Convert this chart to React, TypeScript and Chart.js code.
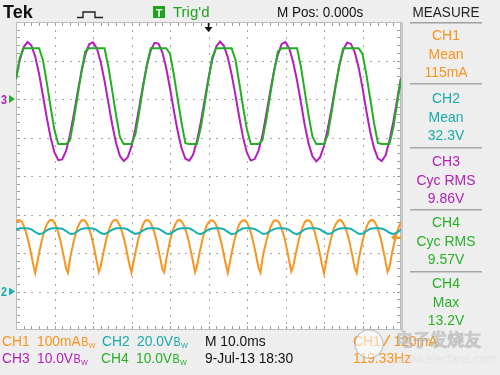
import React, { useEffect, useRef } from "react";
import { Chart, registerables } from "chart.js";

Chart.register(...registerables);

// ---- horizontal axis: 10 ms/div, 10 divisions ----
const TIME_MIN_MS = 0;
const TIME_MAX_MS = 100;
const SAMPLE_STEP_MS = 1;
const CH1_SAMPLE_STEP_MS = 0.5;
// ---- vertical axis: 8 divisions ----
const DIV_MIN = -4;
const DIV_MAX = 4;

// channel settings
const channelLabels = ["CH1", "CH2", "CH3", "CH4"];
const channelUnitsPerDiv = [100, 20, 10, 10]; // mA/div, V/div, V/div, V/div
const channelGroundDiv = [-2.8, -3, 2, 2];
const channelScaleLabels = ["100mA", "20.0V", "10.0V", "10.0V"];
const triggerLevelMilliAmps = 120;

// measurements panel
const measureSources = [0, 1, 2, 3, 3];
const measureNames = ["Mean", "Mean", "Cyc RMS", "Cyc RMS", "Max"];
const measureValues = ["115mA", "32.3V", "9.86V", "9.57V", "13.2V"];

// ---- sampled traces ----
const ch1MilliAmps = [
  160, 165, 165, 161, 151, 137, 119, 98, 74, 49,
  28, 54, 80, 103, 124, 141, 154, 162, 166, 165,
  158, 147, 132, 113, 90, 66, 40, 29, 63, 88,
  110, 130, 146, 157, 164, 166, 163, 155, 142, 126,
  106, 82, 57, 31, 45, 71, 95, 117, 135, 150,
  161, 165, 166, 160, 151, 136, 119, 97, 73, 48,
  29, 55, 80, 104, 124, 140, 154, 163, 166, 164,
  158, 146, 131, 112, 89, 65, 39, 30, 62, 88,
  111, 131, 146, 157, 165, 166, 162, 154, 141, 125,
  105, 81, 56, 30, 46, 72, 96, 118, 136, 151,
  159, 164, 165, 161, 152, 138, 120, 99, 75, 50,
  28, 53, 79, 103, 123, 141, 155, 162, 165, 165,
  159, 147, 133, 114, 91, 67, 41, 29, 64, 89,
  110, 129, 145, 156, 164, 165, 163, 156, 143, 127,
  107, 83, 58, 32, 45, 70, 94, 116, 134, 149,
  160, 165, 165, 162, 151, 137, 118, 98, 74, 49,
  27, 54, 81, 103, 125, 142, 154, 162, 166, 165,
  157, 147, 132, 113, 90, 66, 40, 28, 63, 87,
  110, 130, 146, 158, 164, 166, 163, 155, 142, 126,
  106, 82, 57, 31, 44, 71, 95, 117, 135, 150,
  160,
];

const ch2Volts = [
  32.2, 32.8, 32.9, 32.8, 32.3, 30.9, 29.8, 30.3, 31.8, 32.7,
  32.9, 32.9, 32.6, 31.4, 30.0, 30.0, 31.3, 32.5, 32.9, 32.9,
  32.7, 31.9, 30.4, 29.8, 30.8,
  32.1, 32.8, 32.9, 32.9, 32.2, 30.8, 29.9, 30.4, 31.7, 32.7,
  32.9, 32.8, 32.6, 31.5, 30.1, 29.9, 31.2, 32.5, 32.9, 32.9,
  32.8, 31.8, 30.3, 29.8, 30.9,
  32.2, 32.7, 32.9, 32.8, 32.4, 31.0, 29.8, 30.2, 31.8, 32.8,
  32.9, 32.9, 32.5, 31.4, 30.0, 30.1, 31.4, 32.4, 32.9, 32.9,
  32.7, 32.0, 30.4, 29.7, 30.8,
  32.3, 32.8, 32.9, 32.8, 32.3, 30.9, 29.9, 30.3, 31.9, 32.7,
  32.9, 32.9, 32.6, 31.3, 30.0, 30.0, 31.3, 32.6, 32.9, 32.9,
  32.7, 31.9, 30.5, 29.8, 30.7,
  32.2,
];

const ch3Volts = [
  5.4, 10.2, 13.5, 14.8, 13.9, 11.0, 6.5, 0.9, -4.9, -10.0,
  -13.9, -15.9, -15.7, -13.5, -9.4, -4.1, 1.7, 7.1, 11.5, 14.2,
  14.7, 13.2, 9.6, 4.7, -1.0, -6.7, -11.5, -14.8, -16.1, -15.2,
  -12.3, -7.7, -2.2, 3.6, 8.7, 12.6, 14.6, 14.4, 12.2, 8.1,
  2.8, -3.0, -8.4, -12.8, -15.5, -16.0, -14.5, -10.9, -6.0, -0.3,
  5.4, 10.3, 13.6, 14.9, 13.8, 10.9, 6.4, 1.0, -4.8, -10.1,
  -14.0, -16.0, -15.6, -13.4, -9.5, -4.0, 1.8, 7.2, 11.4, 14.3,
  14.8, 13.1, 9.5, 4.8, -0.9, -6.8, -11.6, -14.9, -16.2, -15.1,
  -12.2, -7.6, -2.3, 3.5, 8.8, 12.7, 14.7, 14.3, 12.1, 8.2,
  2.9, -3.1, -8.5, -12.7, -15.4, -16.1, -14.6, -10.8, -5.9, -0.2,
  5.5,
];

const ch4Volts = [
  5.1, 10.8, 13.2, 13.2, 13.2, 13.2, 13.2, 10.1, 4.2, -2.1,
  -8.1, -11.7, -11.7, -11.7, -10.8, -5.4, 0.8, 7.1, 12.4, 13.2,
  13.2, 13.2, 13.2, 13.2, 8.3, 2.1, -4.2, -9.9, -11.7, -11.7,
  -11.7, -9.2, -3.4, 3.0, 9.0, 13.2, 13.2, 13.2, 13.2, 13.2,
  11.8, 6.3, 0.0, -6.2, -11.5, -11.7, -11.7, -11.7, -7.4, -1.3,
  5.1, 10.9, 13.2, 13.2, 13.2, 13.2, 13.2, 10.2, 4.1, -2.2,
  -8.0, -11.7, -11.7, -11.7, -10.7, -5.5, 0.9, 7.0, 12.3, 13.2,
  13.2, 13.2, 13.2, 13.2, 8.4, 2.0, -4.3, -9.8, -11.7, -11.7,
  -11.7, -9.3, -3.3, 3.1, 8.9, 13.2, 13.2, 13.2, 13.2, 13.2,
  11.7, 6.4, 0.1, -6.3, -11.4, -11.7, -11.7, -11.7, -7.5, -1.2,
  5.2,
];

// ---- styles ----
const TRACE_COLORS = ["#f7951f", "#16afb3", "#b31fbb", "#22b022"];
const TEXT_COLORS = ["#f7941d", "#17aaab", "#b01fb6", "#26b026"];
const FONT = '"Liberation Sans", Arial, sans-serif';

function toPoints(values: number[], stepMs: number, ch: number) {
  return values.map((v, i) => ({
    x: i * stepMs,
    y: channelGroundDiv[ch] + v / channelUnitsPerDiv[ch],
  }));
}

function drawText(
  ctx: CanvasRenderingContext2D,
  s: string,
  x: number,
  y: number,
  color: string,
  size: number,
  align: CanvasTextAlign = "left",
  weight = "normal",
  sx = 1,
  family = FONT
) {
  ctx.save();
  ctx.font = `${weight} ${size}px ${family}`;
  ctx.fillStyle = color;
  ctx.textAlign = align;
  ctx.textBaseline = "alphabetic";
  ctx.translate(x, y);
  ctx.scale(sx, 1);
  ctx.fillText(s, 0, 0);
  const w = ctx.measureText(s).width * sx;
  ctx.restore();
  return w;
}

function drawScaleLabel(ctx: CanvasRenderingContext2D, s: string, x: number, y: number, color: string) {
  const w = drawText(ctx, s, x, y, color, 15, "left", "normal", 0.92);
  drawText(ctx, "B", x + w + 0.5, y, color, 12, "left", "normal", 0.9);
  drawText(ctx, "W", x + w + 8, y + 2, color, 8, "left", "normal", 0.9);
}

const scopePlugin = {
  id: "scopeDecor",
  beforeDraw(chart: any) {
    const { ctx, chartArea: a, scales } = chart;
    const xs = scales.x;
    const ys = scales.y;
    ctx.save();
    ctx.fillStyle = "#eeeeee";
    ctx.fillRect(0, 0, chart.width, chart.height);
    ctx.fillStyle = "#ffffff";
    ctx.fillRect(a.left, a.top, a.right - a.left, a.bottom - a.top);

    // dotted graticule
    ctx.fillStyle = "#a6a6a6";
    for (let i = 1; i < 10; i++) {
      const px = Math.round(xs.getPixelForValue(i * 10));
      for (let j = 1; j < 40; j++) {
        const py = Math.round(ys.getPixelForValue(DIV_MIN + j * 0.2));
        ctx.fillRect(px, py, 1, 2);
      }
    }
    for (let j = 1; j < 8; j++) {
      const py = Math.round(ys.getPixelForValue(DIV_MIN + j));
      for (let i = 1; i < 50; i++) {
        const px = Math.round(xs.getPixelForValue(i * 2));
        ctx.fillRect(px, py, 2, 1);
      }
    }
    // edge ticks
    ctx.fillStyle = "#9c9c9c";
    for (let i = 1; i < 50; i++) {
      const px = Math.round(xs.getPixelForValue(i * 2));
      ctx.fillRect(px, a.top, 1, 4);
      ctx.fillRect(px, a.bottom - 4, 1, 4);
    }
    for (let j = 1; j < 40; j++) {
      const py = Math.round(ys.getPixelForValue(DIV_MIN + j * 0.2));
      ctx.fillRect(a.left, py, 4, 1);
      ctx.fillRect(a.right - 4, py, 4, 1);
    }
    ctx.strokeStyle = "#bdbdbd";
    ctx.lineWidth = 1;
    ctx.strokeRect(a.left + 0.5, a.top + 0.5, a.right - a.left - 1, a.bottom - a.top - 1);
    ctx.restore();
  },
  afterDraw(chart: any) {
    const { ctx, chartArea: a, scales } = chart;
    const xs = scales.x;
    const ys = scales.y;
    ctx.save();

    // right panel border
    ctx.fillStyle = "#c9c9c9";
    ctx.fillRect(a.right, a.top, 2, a.bottom - a.top + 2);

    // ---- top bar ----
    drawText(ctx, "Tek", 3, 18, "#111111", 18, "left", "bold", 1);
    ctx.strokeStyle = "#222222";
    ctx.lineWidth = 1.4;
    ctx.beginPath();
    ctx.moveTo(77, 17.5);
    ctx.lineTo(83, 17.5);
    ctx.lineTo(83, 12);
    ctx.lineTo(95, 12);
    ctx.lineTo(95, 17.5);
    ctx.lineTo(103, 17.5);
    ctx.stroke();
    ctx.fillStyle = "#1ea31e";
    ctx.fillRect(153, 6, 12, 12);
    drawText(ctx, "T", 159, 16.5, "#ffffff", 11, "center", "bold", 1);
    drawText(ctx, "Trig'd", 173, 17, "#1ea31e", 15, "left", "normal", 1);
    drawText(ctx, "M Pos: 0.000s", 277, 17, "#111111", 15, "left", "normal", 0.9);
    drawText(ctx, "MEASURE", 446, 17, "#222222", 15, "center", "normal", 0.9);
    ctx.fillStyle = "#a0a0a0";
    ctx.fillRect(410, 22, 72, 1.5);

    // trigger position marker
    const tx = xs.getPixelForValue((TIME_MIN_MS + TIME_MAX_MS) / 2);
    ctx.fillStyle = "#111111";
    ctx.fillRect(tx - 0.75, a.top + 1, 1.5, 5);
    ctx.beginPath();
    ctx.moveTo(tx - 4, a.top + 5);
    ctx.lineTo(tx + 4, a.top + 5);
    ctx.lineTo(tx, a.top + 10);
    ctx.closePath();
    ctx.fill();

    // ---- measurement panel ----
    const blockBase = [40, 103, 166, 227, 288];
    measureSources.forEach((ch, i) => {
      const c = TEXT_COLORS[ch];
      drawText(ctx, channelLabels[ch], 446, blockBase[i], c, 15, "center", "normal", 0.93);
      drawText(ctx, measureNames[i], 446, blockBase[i] + 18.5, c, 15, "center", "normal", 0.93);
      drawText(ctx, measureValues[i], 446, blockBase[i] + 37, c, 15, "center", "normal", 0.93);
    });
    ctx.fillStyle = "#a8a8a8";
    [83, 147, 209, 271].forEach((sy) => ctx.fillRect(410, sy, 72, 1.5));

    // ---- ground markers on the left ----
    const g34 = ys.getPixelForValue(channelGroundDiv[2]);
    drawText(ctx, "3", 1, g34 + 4.5, TEXT_COLORS[2], 12, "left", "bold", 0.9);
    ctx.fillStyle = TRACE_COLORS[3];
    ctx.beginPath();
    ctx.moveTo(9, g34 - 4);
    ctx.lineTo(15, g34);
    ctx.lineTo(9, g34 + 4);
    ctx.closePath();
    ctx.fill();
    const g2 = ys.getPixelForValue(channelGroundDiv[1]);
    drawText(ctx, "2", 1, g2 + 4.5, TEXT_COLORS[1], 12, "left", "bold", 0.9);
    ctx.fillStyle = TRACE_COLORS[1];
    ctx.beginPath();
    ctx.moveTo(9, g2 - 4);
    ctx.lineTo(15, g2);
    ctx.lineTo(9, g2 + 4);
    ctx.closePath();
    ctx.fill();

    // trigger level marker (right edge)
    const tl = ys.getPixelForValue(channelGroundDiv[0] + triggerLevelMilliAmps / channelUnitsPerDiv[0]);
    ctx.fillStyle = TRACE_COLORS[0];
    ctx.fillRect(a.right - 8, tl - 1, 8, 2);
    ctx.beginPath();
    ctx.moveTo(a.right - 10, tl);
    ctx.lineTo(a.right - 5, tl - 4);
    ctx.lineTo(a.right - 5, tl + 4);
    ctx.closePath();
    ctx.fill();

    // ---- bottom status rows ----
    const r1 = 346;
    const r2 = 363;
    drawText(ctx, channelLabels[0], 2, r1, TEXT_COLORS[0], 15, "left", "normal", 0.92);
    drawScaleLabel(ctx, channelScaleLabels[0], 37, r1, TEXT_COLORS[0]);
    drawText(ctx, channelLabels[1], 102, r1, TEXT_COLORS[1], 15, "left", "normal", 0.92);
    drawScaleLabel(ctx, channelScaleLabels[1], 137, r1, TEXT_COLORS[1]);
    drawText(ctx, "M 10.0ms", 205, r1, "#111111", 15, "left", "normal", 0.92);
    drawText(ctx, channelLabels[2], 2, r2, TEXT_COLORS[2], 15, "left", "normal", 0.92);
    drawScaleLabel(ctx, channelScaleLabels[2], 37, r2, TEXT_COLORS[2]);
    drawText(ctx, channelLabels[3], 101, r2, TEXT_COLORS[3], 15, "left", "normal", 0.92);
    drawScaleLabel(ctx, channelScaleLabels[3], 136, r2, TEXT_COLORS[3]);
    drawText(ctx, "9-Jul-13 18:30", 205, r2, "#111111", 15, "left", "normal", 0.92);

    const w1 = drawText(ctx, channelLabels[0], 353, r1, TEXT_COLORS[0], 15, "left", "normal", 0.92);
    ctx.strokeStyle = TEXT_COLORS[0];
    ctx.lineWidth = 1.5;
    ctx.beginPath();
    ctx.moveTo(353 + w1 + 3, r1);
    ctx.lineTo(353 + w1 + 9, r1 - 11);
    ctx.stroke();
    drawText(ctx, triggerLevelMilliAmps + "mA", 353 + w1 + 13, r1, TEXT_COLORS[0], 15, "left", "normal", 0.92);
    drawText(ctx, "119.33Hz", 353, r2, TEXT_COLORS[0], 15, "left", "normal", 0.92);

    // ---- watermark ----
    ctx.globalAlpha = 0.55;
    ctx.fillStyle = "#ffffff";
    ctx.strokeStyle = "#9a9a9a";
    ctx.lineWidth = 1.2;
    ctx.beginPath();
    ctx.arc(369, 344, 14, 0, Math.PI * 2);
    ctx.fill();
    ctx.stroke();
    ctx.font = `17px "Noto Sans CJK SC", sans-serif`;
    ctx.textAlign = "left";
    ctx.fillText("电子发烧友", 396, 346);
    ctx.strokeText("电子发烧友", 396, 346);
    ctx.font = `12px ${FONT}`;
    ctx.fillStyle = "#d8d8d8";
    ctx.fillText("www.elecfans.com", 397, 363);
    ctx.globalAlpha = 1;

    ctx.restore();
  },
};

export default function App() {
  const canvasRef = useRef<HTMLCanvasElement>(null);

  useEffect(() => {
    document.body.style.margin = "0";
    const canvas = canvasRef.current;
    if (!canvas) return;
    const chart = new Chart(canvas, {
      type: "line",
      data: {
        datasets: [
          {
            label: channelLabels[3],
            data: toPoints(ch4Volts, SAMPLE_STEP_MS, 3),
            borderColor: TRACE_COLORS[3],
            borderWidth: 2,
          },
          {
            label: channelLabels[2],
            data: toPoints(ch3Volts, SAMPLE_STEP_MS, 2),
            borderColor: TRACE_COLORS[2],
            borderWidth: 2,
          },
          {
            label: channelLabels[1],
            data: toPoints(ch2Volts, SAMPLE_STEP_MS, 1),
            borderColor: TRACE_COLORS[1],
            borderWidth: 2,
          },
          {
            label: channelLabels[0],
            data: toPoints(ch1MilliAmps, CH1_SAMPLE_STEP_MS, 0),
            borderColor: TRACE_COLORS[0],
            borderWidth: 2,
          },
        ],
      },
      options: {
        responsive: false,
        animation: false,
        devicePixelRatio: 1,
        layout: { padding: { left: 16, top: 22, right: 99, bottom: 45 } },
        elements: {
          point: { radius: 0 },
          line: { tension: 0, fill: false },
        },
        scales: {
          x: { type: "linear", min: TIME_MIN_MS, max: TIME_MAX_MS, display: false },
          y: { type: "linear", min: DIV_MIN, max: DIV_MAX, display: false },
        },
        plugins: {
          legend: { display: false },
          tooltip: { enabled: false },
        },
      },
      plugins: [scopePlugin],
    });
    return () => chart.destroy();
  }, []);

  return (
    <div style={{ width: 500, height: 375 }}>
      <canvas ref={canvasRef} width={500} height={375} style={{ display: "block", width: 500, height: 375 }} />
    </div>
  );
}
